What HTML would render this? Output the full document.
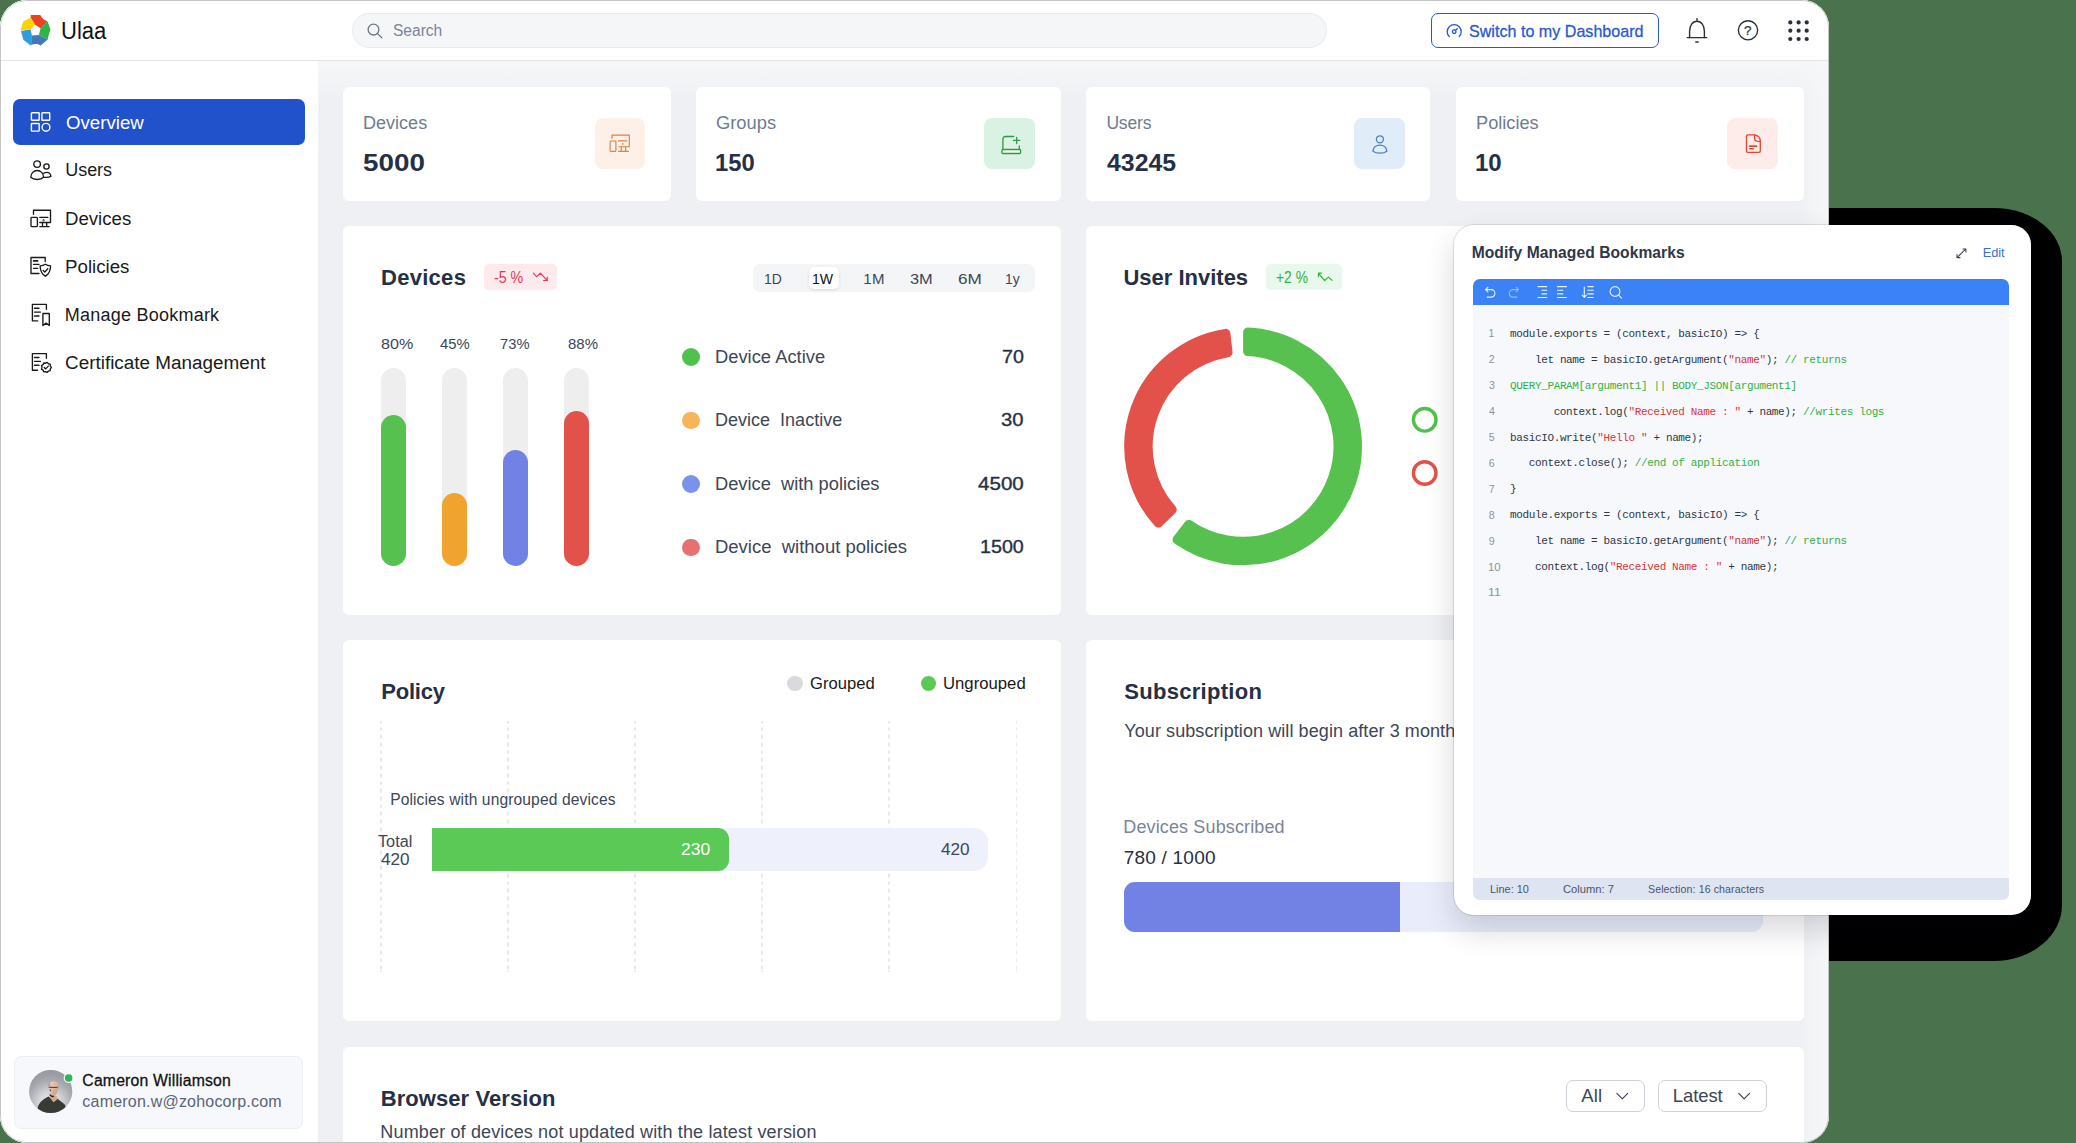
<!DOCTYPE html>
<html>
<head>
<meta charset="utf-8">
<title>Ulaa Dashboard</title>
<style>
*{box-sizing:border-box;margin:0;padding:0}
html,body{width:2076px;height:1143px;overflow:hidden}
body{background:#4a734d;font-family:"Liberation Sans",sans-serif;color:#1f2937;position:relative}
.abs{position:absolute}
.t{position:absolute;white-space:pre;line-height:1}
#blk{position:absolute;left:1700px;top:208px;width:362px;height:753px;background:#000;border-radius:0 68px 68px 0 / 0 53px 56px 0}
#win{position:absolute;left:0;top:0;width:1829px;height:1143px;background:#eef0f3;border-radius:27px;overflow:hidden}
#winb{position:absolute;left:0;top:0;width:1829px;height:1143px;border:1px solid #c4c4c4;border-radius:27px;pointer-events:none}
#hdr{position:absolute;left:0;top:0;width:1830px;height:61px;background:#fff;border-bottom:1px solid #e3e4e6}
#side{position:absolute;left:0;top:0;width:318px;height:1150px;background:#fff}
.card{position:absolute;background:#fff;border-radius:6px}
</style>
</head>
<body>
<div id="blk"></div>
<div id="win">
  <div id="content" class="abs" style="left:0;top:0;width:1830px;height:1144px">
<div class="abs" style="left:318px;top:61px;width:1511px;height:40px;background:linear-gradient(to bottom,#f6f7f9 0%,rgba(246,247,249,0.55) 45%,rgba(246,247,249,0) 100%)"></div>
<div class="abs" style="left:1800px;top:61px;width:29px;height:1083px;background:linear-gradient(to right,rgba(246,247,249,0) 0%,rgba(246,247,249,0.6) 50%,#f6f7f9 100%)"></div>
<div class="card" style="left:343px;top:86.6px;width:327.6px;height:114px"></div>
<div class="card" style="left:696px;top:86.6px;width:364.6px;height:114px"></div>
<div class="card" style="left:1086px;top:86.6px;width:344.2px;height:114px"></div>
<div class="card" style="left:1456px;top:86.6px;width:348px;height:114px"></div>
<div class="t" style="left:363.26px;top:113px;line-height:20px;font-size:17.5px;color:#6f7c90;transform:scaleX(1.0312);transform-origin:0 0;">Devices</div>
<div class="t" style="left:363.37px;top:150px;line-height:26px;font-size:23px;color:#263043;font-weight:bold;transform:scaleX(1.2086);transform-origin:0 0;">5000</div>
<div class="t" style="left:716.28px;top:113px;line-height:20px;font-size:17.5px;color:#6f7c90;transform:scaleX(1.0467);transform-origin:0 0;">Groups</div>
<div class="t" style="left:715.47px;top:150px;line-height:26px;font-size:23px;color:#263043;font-weight:bold;transform:scaleX(1.0342);transform-origin:0 0;">150</div>
<div class="t" style="left:1106.38px;top:113px;line-height:20px;font-size:17.5px;color:#6f7c90;letter-spacing:-0.162px;">Users</div>
<div class="t" style="left:1106.85px;top:150px;line-height:26px;font-size:23px;color:#263043;font-weight:bold;transform:scaleX(1.0804);transform-origin:0 0;">43245</div>
<div class="t" style="left:1475.64px;top:113px;line-height:20px;font-size:17.5px;color:#6f7c90;transform:scaleX(1.0398);transform-origin:0 0;">Policies</div>
<div class="t" style="left:1474.96px;top:150px;line-height:26px;font-size:23px;color:#263043;font-weight:bold;transform:scaleX(1.0440);transform-origin:0 0;">10</div>
<div class="abs" style="left:594.6px;top:118px;width:50.4px;height:50.8px;background:#fdf0e7;border-radius:8px;"></div>
<div class="abs" style="left:984.2px;top:118px;width:50.8px;height:50.8px;background:#daf2e4;border-radius:8px;"></div>
<div class="abs" style="left:1354.2px;top:118px;width:50.8px;height:50.8px;background:#e0edf9;border-radius:8px;"></div>
<div class="abs" style="left:1727.4px;top:118px;width:50.6px;height:50.8px;background:#fdecea;border-radius:8px;"></div>
<svg class="abs" style="left:606px;top:130px" width="28" height="26" viewBox="0 0 28 26" fill="none" stroke="#d9824a" stroke-width="1.15" stroke-linecap="round" stroke-linejoin="round" ><path d="M6 8.400v-3.300h17.300v11.600h-10.300"/><path d="M12.500 10.900h8.300"/><path d="M15.300 16.700v4.500M19.600 16.700v4.500M12.500 21.300h10"/><rect x="4.100" y="11" width="5.800" height="10.300" rx="0.700"/><circle cx="16.700" cy="13.900" r="0.300"/></svg>
<svg class="abs" style="left:996px;top:130px" width="30" height="28" viewBox="0 0 30 28" fill="none" stroke="#2f9b41" stroke-width="1.3" stroke-linecap="round" stroke-linejoin="round" ><path d="M6.900 19v-9.600c0-1.800 1-2.900 2.800-2.900h7.900"/><path d="M23.300 16v3"/><path d="M17.600 10.400h6.200M20.700 7.300v6.200"/><rect x="5.900" y="19.500" width="18.700" height="4" rx="1" fill="#f3fbf5"/></svg>
<svg class="abs" style="left:1366px;top:130px" width="28" height="28" viewBox="0 0 28 28" fill="none" stroke="#4a7fc4" stroke-width="1.3" stroke-linecap="round" stroke-linejoin="round" ><circle cx="13.900" cy="9.300" r="3.500"/><path d="M6.900 21.200c.5-3.700 3.400-6 7-6s6.500 2.300 7 6c-2 1.500-4.400 2-7 2s-5-.5-7-2z"/></svg>
<svg class="abs" style="left:1739px;top:128px" width="30" height="30" viewBox="0 0 30 30" fill="none" stroke="#e8452c" stroke-width="1.3" stroke-linecap="round" stroke-linejoin="round" ><path d="M15.400 6.900h-6.600c-.8 0-1.300.5-1.300 1.300v14.900c0 .8.500 1.300 1.300 1.300h11.200c.8 0 1.300-.5 1.300-1.300v-9.600c0-3.600-2.300-6.100-5.900-6.600z"/><path d="M15.600 7v3.500c0 1.400.8 2.300 2.300 2.600l3 .5"/><path d="M10.700 18.200h6.800" stroke-width="1.700"/><path d="M10.700 20.800h3.600" stroke-width="1.500"/></svg>
<div class="card" style="left:343px;top:225.8px;width:717.6px;height:388.9px"></div>
<div class="t" style="left:380.98px;top:265px;line-height:25px;font-size:22px;color:#263043;font-weight:bold;letter-spacing:0.290px;">Devices</div>
<div class="abs" style="left:484.1px;top:263.9px;width:72.8px;height:26.2px;background:#fdeaec;border-radius:5px;"></div>
<div class="t" style="left:494.43px;top:269px;line-height:17px;font-size:15.8px;color:#e9345a;transform:scaleX(0.9014);transform-origin:0 0;">-5 %</div>
<svg class="abs" style="left:531px;top:269px" width="20" height="16" viewBox="0 0 20 16" fill="none" stroke="#e9345a" stroke-width="1.2" stroke-linecap="round" stroke-linejoin="round" ><path d="M2.300 4.100l3.300 3.500 3.800-3.400 6.700 7.100"/><path d="M16.200 8.100v3.400h-3.600"/></svg>
<div class="abs" style="left:752.7px;top:264px;width:282.2px;height:27.8px;background:#f4f5f7;border-radius:7px;"></div>
<div class="abs" style="left:808.7px;top:267.2px;width:30.2px;height:21.8px;background:#fff;border-radius:5px;box-shadow:0 1px 3px rgba(0,0,0,0.12);"></div>
<div class="t" style="left:764.43px;top:270px;line-height:17px;font-size:15px;color:#3c4658;transform:scaleX(0.9261);transform-origin:0 0;">1D</div>
<div class="t" style="left:811.82px;top:270px;line-height:17px;font-size:15px;color:#111;transform:scaleX(0.9377);transform-origin:0 0;">1W</div>
<div class="t" style="left:863.25px;top:270px;line-height:17px;font-size:15px;color:#3c4658;letter-spacing:0.408px;">1M</div>
<div class="t" style="left:909.91px;top:270px;line-height:17px;font-size:15px;color:#3c4658;transform:scaleX(1.0937);transform-origin:0 0;">3M</div>
<div class="t" style="left:957.74px;top:270px;line-height:17px;font-size:15px;color:#3c4658;transform:scaleX(1.1426);transform-origin:0 0;">6M</div>
<div class="t" style="left:1005.33px;top:270px;line-height:17px;font-size:15px;color:#3c4658;transform:scaleX(0.9262);transform-origin:0 0;">1y</div>
<div class="t" style="left:380.86px;top:335px;line-height:17px;font-size:15.5px;color:#3c4658;transform:scaleX(1.0384);transform-origin:0 0;">80%</div>
<div class="t" style="left:440.00px;top:335px;line-height:17px;font-size:15.5px;color:#3c4658;transform:scaleX(0.9550);transform-origin:0 0;">45%</div>
<div class="t" style="left:500.16px;top:335px;line-height:17px;font-size:15.5px;color:#3c4658;transform:scaleX(0.9498);transform-origin:0 0;">73%</div>
<div class="t" style="left:568.10px;top:335px;line-height:17px;font-size:15.5px;color:#3c4658;transform:scaleX(0.9649);transform-origin:0 0;">88%</div>
<div class="abs" style="left:381px;top:367.6px;width:25.4px;height:198.2px;background:#eeeeef;border-radius:12.7px;"></div>
<div class="abs" style="left:381px;top:415.2px;width:25.4px;height:150.59999999999997px;background:#56c14f;border-radius:12.7px;"></div>
<div class="abs" style="left:442px;top:367.6px;width:25.4px;height:198.2px;background:#eeeeef;border-radius:12.7px;"></div>
<div class="abs" style="left:442px;top:492.9px;width:25.4px;height:72.89999999999998px;background:#f0a32e;border-radius:12.7px;"></div>
<div class="abs" style="left:503px;top:367.6px;width:25.4px;height:198.2px;background:#eeeeef;border-radius:12.7px;"></div>
<div class="abs" style="left:503px;top:450.1px;width:25.4px;height:115.69999999999993px;background:#7182e4;border-radius:12.7px;"></div>
<div class="abs" style="left:563.9px;top:367.6px;width:25.4px;height:198.2px;background:#eeeeef;border-radius:12.7px;"></div>
<div class="abs" style="left:563.9px;top:410.9px;width:25.4px;height:154.89999999999998px;background:#e2524a;border-radius:12.7px;"></div>
<div class="abs" style="left:681.9px;top:348.1px;width:17.8px;height:17.8px;background:#4fc14d;border-radius:9px;"></div>
<div class="t" style="left:714.53px;top:347px;line-height:20px;font-size:17.5px;color:#3c4658;transform:scaleX(1.0483);transform-origin:0 0;">Device Active</div>
<div class="t" style="left:1001.98px;top:347px;line-height:20px;font-size:17.5px;color:#263043;-webkit-text-stroke:0.33px #263043;transform:scaleX(1.1230);transform-origin:0 0;">70</div>
<div class="abs" style="left:681.9px;top:411.6px;width:17.8px;height:17.8px;background:#f7b55a;border-radius:9px;"></div>
<div class="t" style="left:714.56px;top:410px;line-height:20px;font-size:17.5px;color:#3c4658;transform:scaleX(1.0297);transform-origin:0 0;">Device  Inactive</div>
<div class="t" style="left:1001.37px;top:410px;line-height:20px;font-size:17.5px;color:#263043;-webkit-text-stroke:0.34px #263043;transform:scaleX(1.1556);transform-origin:0 0;">30</div>
<div class="abs" style="left:681.9px;top:475.1px;width:17.8px;height:17.8px;background:#7b92ea;border-radius:9px;"></div>
<div class="t" style="left:714.54px;top:474px;line-height:20px;font-size:17.5px;color:#3c4658;transform:scaleX(1.0441);transform-origin:0 0;">Device  with policies</div>
<div class="t" style="left:978.06px;top:474px;line-height:20px;font-size:17.5px;color:#263043;-webkit-text-stroke:0.35px #263043;transform:scaleX(1.1766);transform-origin:0 0;">4500</div>
<div class="abs" style="left:681.9px;top:538.5px;width:17.8px;height:17.8px;background:#e87070;border-radius:9px;"></div>
<div class="t" style="left:714.52px;top:537px;line-height:20px;font-size:17.5px;color:#3c4658;transform:scaleX(1.0558);transform-origin:0 0;">Device  without policies</div>
<div class="t" style="left:980.09px;top:537px;line-height:20px;font-size:17.5px;color:#263043;-webkit-text-stroke:0.33px #263043;transform:scaleX(1.1239);transform-origin:0 0;">1500</div>
<div class="card" style="left:1086px;top:225.8px;width:718px;height:388.9px"></div>
<div class="t" style="left:1123.48px;top:265px;line-height:25px;font-size:22px;color:#263043;font-weight:bold;letter-spacing:-0.010px;">User Invites</div>
<div class="abs" style="left:1266.3px;top:263.9px;width:75.4px;height:26.2px;background:#e9f8ec;border-radius:5px;"></div>
<div class="t" style="left:1276.44px;top:268px;line-height:18px;font-size:16.2px;color:#30b536;transform:scaleX(0.8578);transform-origin:0 0;">+2 %</div>
<svg class="abs" style="left:1315px;top:269px" width="20" height="16" viewBox="0 0 20 16" fill="none" stroke="#30b536" stroke-width="1.2" stroke-linecap="round" stroke-linejoin="round" ><path d="M17 11.400l-3.500-3.300-3.900 3.400-6-7.200"/><path d="M3.500 7.700v-3.500h3"/></svg>
<svg class="abs" style="left:1110px;top:310px" width="270" height="270" viewBox="1110 310 270 270"><path d="M1247.90 332.40A114.10000000000001 114.10000000000001 0 1 1 1177.35 539.65L1188.89 524.66A95.2 95.2 0 1 0 1247.90 351.32Z" fill="#56c14f" stroke="#56c14f" stroke-width="9.6" stroke-linejoin="round"/><path d="M1158.43 522.88A114.10000000000001 114.10000000000001 0 0 1 1225.62 333.65L1227.73 352.45A95.2 95.2 0 0 0 1171.92 509.62Z" fill="#e2524a" stroke="#e2524a" stroke-width="9.6" stroke-linejoin="round"/></svg>
<svg class="abs" style="left:1405px;top:400px" width="40" height="95" viewBox="1405 400 40 95" fill="none" stroke-width="3.4"><circle cx="1424.7" cy="419.8" r="11.3" stroke="#4fc14d"/><circle cx="1424.7" cy="473" r="11.3" stroke="#e2524a"/></svg>
<div class="card" style="left:343px;top:640.2px;width:717.6px;height:380.8px"></div>
<div class="t" style="left:381.18px;top:679px;line-height:25px;font-size:22px;color:#263043;font-weight:bold;letter-spacing:-0.194px;">Policy</div>
<div class="abs" style="left:787.4px;top:675.9px;width:15.2px;height:15.2px;background:#d9dade;border-radius:8px;"></div>
<div class="t" style="left:809.67px;top:675px;line-height:17px;font-size:15.8px;color:#1a1a1a;transform:scaleX(1.0517);transform-origin:0 0;">Grouped</div>
<div class="abs" style="left:920.6999999999999px;top:675.9px;width:15.2px;height:15.2px;background:#5ac955;border-radius:8px;"></div>
<div class="t" style="left:943.03px;top:675px;line-height:17px;font-size:15.8px;color:#1a1a1a;transform:scaleX(1.0579);transform-origin:0 0;">Ungrouped</div>
<div class="abs" style="left:380.15px;top:720.9px;width:1.9px;height:251.600px;background:repeating-linear-gradient(to bottom,#e9e9eb 0,#e9e9eb 3.700px,transparent 3.700px,transparent 7.700px);background-position:0 -1.400px"></div>
<div class="abs" style="left:507.25px;top:720.9px;width:1.9px;height:251.600px;background:repeating-linear-gradient(to bottom,#e9e9eb 0,#e9e9eb 3.700px,transparent 3.700px,transparent 7.700px);background-position:0 -1.400px"></div>
<div class="abs" style="left:634.35px;top:720.9px;width:1.9px;height:251.600px;background:repeating-linear-gradient(to bottom,#e9e9eb 0,#e9e9eb 3.700px,transparent 3.700px,transparent 7.700px);background-position:0 -1.400px"></div>
<div class="abs" style="left:761.45px;top:720.9px;width:1.9px;height:251.600px;background:repeating-linear-gradient(to bottom,#e9e9eb 0,#e9e9eb 3.700px,transparent 3.700px,transparent 7.700px);background-position:0 -1.400px"></div>
<div class="abs" style="left:888.35px;top:720.9px;width:1.9px;height:251.600px;background:repeating-linear-gradient(to bottom,#e9e9eb 0,#e9e9eb 3.700px,transparent 3.700px,transparent 7.700px);background-position:0 -1.400px"></div>
<div class="abs" style="left:1015.55px;top:720.9px;width:1.9px;height:251.600px;background:repeating-linear-gradient(to bottom,#e9e9eb 0,#e9e9eb 3.700px,transparent 3.700px,transparent 7.700px);background-position:0 -1.400px"></div>
<div class="t" style="left:390.15px;top:791px;line-height:17px;font-size:15.6px;color:#3c4658;letter-spacing:0.114px;">Policies with ungrouped devices</div>
<div class="t" style="left:378.17px;top:833px;line-height:17px;font-size:15.6px;color:#3c4658;transform:scaleX(1.0420);transform-origin:0 0;">Total</div>
<div class="t" style="left:380.86px;top:851px;line-height:17px;font-size:15.6px;color:#3c4658;transform:scaleX(1.0973);transform-origin:0 0;">420</div>
<div class="abs" style="left:432.2px;top:828px;width:555.7px;height:43px;background:#eef1fc;border-radius:0 14px 14px 0;"></div>
<div class="abs" style="left:432.2px;top:828px;width:296.6px;height:43px;background:#5ac955;border-radius:0 11px 11px 0;"></div>
<div class="t" style="left:681.33px;top:841px;line-height:17px;font-size:16px;color:#fff;transform:scaleX(1.0902);transform-origin:0 0;">230</div>
<div class="t" style="left:941.26px;top:841px;line-height:17px;font-size:16px;color:#3c4658;transform:scaleX(1.0699);transform-origin:0 0;">420</div>
<div class="card" style="left:1086px;top:640.2px;width:718px;height:380.8px"></div>
<div class="t" style="left:1124.26px;top:679px;line-height:25px;font-size:22px;color:#263043;font-weight:bold;letter-spacing:0.284px;">Subscription</div>
<div class="t" style="left:1124.34px;top:721px;line-height:20px;font-size:18px;color:#3c4658;letter-spacing:0.081px;">Your subscription will begin after 3 months</div>
<div class="t" style="left:1123.26px;top:817px;line-height:20px;font-size:18px;color:#7a8597;letter-spacing:0.134px;">Devices Subscribed</div>
<div class="t" style="left:1123.75px;top:847px;line-height:21px;font-size:19px;color:#263043;letter-spacing:0.215px;">780 / 1000</div>
<div class="abs" style="left:1123.9px;top:881.5px;width:638.9px;height:50.5px;background:#e9edfb;border-radius:11px;"></div>
<div class="abs" style="left:1123.9px;top:881.5px;width:276.1px;height:50.5px;background:#7182e4;border-radius:11px 0 0 11px;"></div>
<div class="card" style="left:343px;top:1046.7px;width:1461px;height:140px"></div>
<div class="t" style="left:380.68px;top:1086px;line-height:25px;font-size:22px;color:#263043;font-weight:bold;letter-spacing:0.074px;">Browser Version</div>
<div class="t" style="left:380.36px;top:1122px;line-height:20px;font-size:18px;color:#3c4658;letter-spacing:0.150px;">Number of devices not updated with the latest version</div>
<div class="abs" style="left:1565.5px;top:1080px;width:79px;height:32px;background:#fff;border-radius:7px;border:1px solid #cfd2d8;"></div>
<div class="abs" style="left:1658.1px;top:1080px;width:108.7px;height:32px;background:#fff;border-radius:7px;border:1px solid #cfd2d8;"></div>
<div class="t" style="left:1581.30px;top:1085px;line-height:21px;font-size:18.5px;color:#3c4658;letter-spacing:0.095px;">All</div>
<div class="t" style="left:1672.82px;top:1085px;line-height:21px;font-size:18.5px;color:#3c4658;letter-spacing:-0.091px;">Latest</div>
<svg class="abs" style="left:1614px;top:1090px" width="16" height="12" viewBox="0 0 16 12" fill="none" stroke="#3c4658" stroke-width="1.2" stroke-linecap="round" stroke-linejoin="round" ><path d="M2.900 3.400l5.400 5.500 5.400-5.500"/></svg>
<svg class="abs" style="left:1736px;top:1090px" width="16" height="12" viewBox="0 0 16 12" fill="none" stroke="#3c4658" stroke-width="1.2" stroke-linecap="round" stroke-linejoin="round" ><path d="M2.700 3.400l5.400 5.500 5.400-5.500"/></svg>
  </div>
  <div id="side">
<div class="abs" style="left:13px;top:99px;width:292px;height:46px;background:#2251cc;border-radius:7px;"></div>
<svg class="abs" style="left:28px;top:110px" width="26" height="24" viewBox="0 0 26 24" fill="none" stroke="#fff" stroke-width="1.4" stroke-linecap="round" stroke-linejoin="round" ><rect x="3.4" y="2.7" width="7.8" height="7.6" rx="0.6"/><rect x="13.9" y="2.7" width="7.8" height="7.6" rx="0.6"/><rect x="3.4" y="13.5" width="7.8" height="7.6" rx="0.6"/><circle cx="18" cy="17.3" r="3.9"/></svg>
<svg class="abs" style="left:28px;top:158px" width="26" height="24" viewBox="0 0 26 24" fill="none" stroke="#1a1a1a" stroke-width="1.35" stroke-linecap="round" stroke-linejoin="round" ><circle cx="9.1" cy="6.1" r="3.3"/><circle cx="18.500" cy="8.500" r="2.650"/><path d="M2.8 19.3c0-4 2.9-6.8 6.4-6.8s6.4 2.8 6.4 6.8c-1.5 1.6-3.8 2.2-6.4 2.2s-4.900-.6-6.400-2.200z"/><path d="M15.700 15.300c.8-.7 1.800-1 2.900-1 2.400 0 4.100 1.800 4.300 4.100-1.600 1-4.300 1.100-7.200.9"/></svg>
<svg class="abs" style="left:28px;top:206px" width="26" height="24" viewBox="0 0 26 24" fill="none" stroke="#1a1a1a" stroke-width="1.35" stroke-linecap="round" stroke-linejoin="round" ><path d="M5.500 8.300v-4.100h17v12.300h-10.700"/><path d="M11.800 11.400h8"/><path d="M14.500 16.500v4.100M18.700 16.500v4.100M11.800 20.600h9.400"/><rect x="3" y="11.400" width="6.400" height="9.200" rx="0.8"/><circle cx="15.600" cy="14.300" r="0.350" /></svg>
<svg class="abs" style="left:28px;top:254px" width="26" height="26" viewBox="0 0 26 26" fill="none" stroke="#1a1a1a" stroke-width="1.35" stroke-linecap="round" stroke-linejoin="round" ><path d="M17.200 7.600v-4.100h-14.200v16h8"/><path d="M5.500 10.400h5.500M5.500 14.300h4.200"/><path d="M5.700 6.900h3.800" stroke-width="1.9"/><path d="M17.350 10.300c1.600 1 3.300 1.500 5.200 1.600 0 4.800-1.600 8.100-5.200 10.300-3.600-2.200-5.200-5.500-5.200-10.300 1.900-.1 3.600-.6 5.200-1.600z"/><path d="M15.200 16.400l1.600 1.600 3-3.200"/></svg>
<svg class="abs" style="left:28px;top:302px" width="26" height="26" viewBox="0 0 26 26" fill="none" stroke="#1a1a1a" stroke-width="1.35" stroke-linecap="round" stroke-linejoin="round" ><path d="M18.400 7.300v-4.900h-14v16.500h5.200"/><path d="M6.500 6.250h4.500M6.500 10.100h6M6.500 14h4.500"/><path d="M14.900 11.500h6.400v12l-3.200-2.400-3.200 2.400z"/></svg>
<svg class="abs" style="left:28px;top:350px" width="26" height="26" viewBox="0 0 26 26" fill="none" stroke="#1a1a1a" stroke-width="1.35" stroke-linecap="round" stroke-linejoin="round" ><path d="M18.400 8.300v-4.700h-14v16.600h5.200"/><path d="M6.500 7.500h4.500M6.500 11.300h6M6.500 15.200h4.500"/><polygon points="23.40,17.40 22.29,18.85 22.21,20.68 20.43,21.08 19.19,22.42 17.56,21.59 15.75,21.82 15.04,20.13 13.51,19.14 14.05,17.40 13.51,15.66 15.04,14.67 15.75,12.98 17.56,13.21 19.19,12.38 20.42,13.72 22.21,14.12 22.29,15.95"/><path d="M16.300 17.500l1.400 1.400 2.600-2.800"/></svg>
<div class="t" style="left:65.85px;top:113px;line-height:20px;font-size:18px;color:#fff;transform:scaleX(1.0371);transform-origin:0 0;">Overview</div>
<div class="t" style="left:65.34px;top:160px;line-height:20px;font-size:18px;color:#1a1a1a;letter-spacing:-0.101px;">Users</div>
<div class="t" style="left:65.11px;top:209px;line-height:20px;font-size:18px;color:#1a1a1a;transform:scaleX(1.0348);transform-origin:0 0;">Devices</div>
<div class="t" style="left:65.10px;top:257px;line-height:20px;font-size:18px;color:#1a1a1a;transform:scaleX(1.0392);transform-origin:0 0;">Policies</div>
<div class="t" style="left:64.86px;top:305px;line-height:20px;font-size:18px;color:#1a1a1a;letter-spacing:0.227px;">Manage Bookmark</div>
<div class="t" style="left:65.36px;top:353px;line-height:20px;font-size:18px;color:#1a1a1a;transform:scaleX(1.0493);transform-origin:0 0;">Certificate Management</div>
<div class="abs" style="left:14px;top:1055.5px;width:289px;height:73px;background:#f7f8fb;border-radius:7px;border:1px solid #eceef3;"></div>
<svg class="abs" style="left:29px;top:1070px" width="46" height="44" viewBox="0 0 46 44">
<defs><radialGradient id="ag" cx="21" cy="33" r="30" gradientUnits="userSpaceOnUse"><stop offset="0" stop-color="#ececee"/><stop offset="0.35" stop-color="#d6d7da"/><stop offset="0.75" stop-color="#a9aab0"/><stop offset="1" stop-color="#999aa2"/></radialGradient><clipPath id="ac"><circle cx="21.7" cy="21.5" r="21.6"/></clipPath>
<linearGradient id="sk" x1="0" y1="0" x2="1" y2="1"><stop offset="0" stop-color="#f0d2bf"/><stop offset="1" stop-color="#c99a80"/></linearGradient></defs>
<circle cx="21.7" cy="21.500" r="21.600" fill="url(#ag)"/>
<g clip-path="url(#ac)">
<path d="M19.600 26.400c-4.500 2.200-8.700 4.600-10.800 10.600l-.8 8h30l-1.400-8c-.3-1.700-.9-2.600-2-3.400l-6.400-5.200-3.400 2.400z" fill="#383a35"/>
<path d="M21.600 24.500l6.200 1.500.4 3.400-3.700 2.800-3.600-4.400z" fill="#d9a98e"/>
<path d="M20.600 23.500c1.200 1.800 3.400 2.700 5 2.200l-1.600 1.700-3.200-1.500z" fill="#2a2623"/>
<path d="M19.800 17.200c-.6-3.400 1.400-5.600 4.600-5.600 3.400 0 5.400 2.200 5 6.200-.3 3-1.300 5.600-2.700 6.900-.8.700-2 .8-3 .3-2-1-3.500-4.300-3.900-7.800z" fill="url(#sk)"/>
<path d="M19.500 16.800c-.3-2.500.6-4.100 1.700-4.800-.4 1.400-.7 3-.6 4.600zM29.100 14.600c.7 1.200.8 2.600.6 4.100l-.7-.2z" fill="#9a9494"/>
<path d="M19.700 17.300l8.700.2" stroke="#2d2d30" stroke-width="0.900" fill="none"/>
<circle cx="21.400" cy="20.300" r="0.700" fill="#3a3030"/>
</g>
<circle cx="39.660" cy="8.080" r="5" fill="#f7f8fb"/><circle cx="39.660" cy="8.080" r="3.750" fill="#2fb457"/></svg>
<div class="t" style="left:82.34px;top:1072px;line-height:17px;font-size:15.8px;color:#111;-webkit-text-stroke:0.27px #111;letter-spacing:0.162px;">Cameron Williamson</div>
<div class="t" style="left:82.36px;top:1093px;line-height:17px;font-size:16px;color:#5a6478;letter-spacing:0.203px;">cameron.w@zohocorp.com</div>
  </div>
  <div id="hdr">
<svg class="abs" style="left:20px;top:14px" width="33" height="34" viewBox="0 0 33 34">
<path d="M10.700 1h9.700c.4 1 .8 1.800 1.400 2.500 1.400 1.700 3.300 2.900 5.600 3.800l-6.800 6.900-5.500-3.500-4.400-7z" fill="#ee4023"/>
<path d="M27.400 7.300c1 2.800 2.400 5.700 3.200 8.600-1.400 3-2.300 6.300-2.800 9.500l-8.900-4.400 1.700-6.900z" fill="#2fb44a"/>
<path d="M27.800 25.400l-7.200 6.200c-2.800-1.700-6.200-1.900-9.300-.8l.6-9.400 7-.4z" fill="#4678b8"/>
<path d="M1 16.900l9.500-1.600 1.400 6v8.900l-1.200 1.400-7.400-5.800z" fill="#319cdc"/>
<path d="M10.700 3.700l4.400 7-4.600 4.600-9.900 1.300 2.700-9.300z" fill="#fdd400"/>
</svg>
<div class="t" style="left:60.86px;top:18px;line-height:26px;font-size:23px;color:#111;transform:scaleX(0.9589);transform-origin:0 0;">Ulaa</div>
<div class="abs" style="left:352.3px;top:13px;width:975px;height:35px;background:#f5f6f8;border-radius:18px;border:1px solid #e9eaec;"></div>
<svg class="abs" style="left:365px;top:21px" width="20" height="20" viewBox="0 0 20 20" fill="none" stroke="#6e778b" stroke-width="1.3" stroke-linecap="round"><circle cx="8.500" cy="8.600" r="5.400"/><path d="M12.500 12.600l4.300 4.100"/></svg>
<div class="t" style="left:392.88px;top:22px;line-height:17px;font-size:16px;color:#7b849a;transform:scaleX(0.9704);transform-origin:0 0;">Search</div>
<div class="abs" style="left:1431px;top:13px;width:228px;height:35px;background:transparent;border-radius:7px;border:1.6px solid #2857d6;"></div>
<svg class="abs" style="left:1445px;top:22px" width="18" height="18" viewBox="0 0 18 18" fill="none" stroke="#2857d6" stroke-width="1.3" stroke-linecap="round"><path d="M4.300 14.600A7 7 0 1 1 14.100 14.600"/><circle cx="9.200" cy="9.700" r="1.800"/><path d="M10.400 8.500l1.800-1.700"/></svg>
<div class="t" style="left:1469.29px;top:23px;line-height:17px;font-size:15.7px;color:#2857d6;-webkit-text-stroke:0.27px #2857d6;transform:scaleX(1.0266);transform-origin:0 0;">Switch to my Dashboard</div>
<svg class="abs" style="left:1685px;top:17px" width="24" height="27" viewBox="0 0 24 27" fill="none" stroke="#2a2f3a" stroke-width="1.4" stroke-linecap="round" stroke-linejoin="round"><path d="M12 1.6v1.6"/><path d="M4.600 20.600V14.300C4.600 8.500 7.600 4.300 12 4.300S19.400 8.500 19.400 14.300V20.600"/><path d="M2.2 20.6h19.6"/><path d="M10.8 25h2.4"/></svg>
<svg class="abs" style="left:1736px;top:18px" width="24" height="24" viewBox="0 0 24 24" fill="none" stroke="#2a2f3a" stroke-width="1.4"><circle cx="12" cy="12.3" r="9.6"/></svg>
<div class="t" style="left:1744.02px;top:23px;line-height:15px;font-size:13.5px;color:#2a2f3a;-webkit-text-stroke:0.23px #2a2f3a;">?</div>
<svg class="abs" style="left:1786px;top:18px" width="26" height="26" viewBox="0 0 26 26" fill="#2a2f3a"><circle cx="4.3" cy="4.4" r="2.1"/><circle cx="12.6" cy="4.4" r="2.1"/><circle cx="20.7" cy="4.4" r="2.1"/><circle cx="4.3" cy="12.7" r="2.1"/><circle cx="12.6" cy="12.7" r="2.1"/><circle cx="20.7" cy="12.7" r="2.1"/><circle cx="4.3" cy="21" r="2.1"/><circle cx="12.6" cy="21" r="2.1"/><circle cx="20.7" cy="21" r="2.1"/></svg>
  </div>
  <div id="winb"></div>
</div>
<div class="abs" style="left:1453.6px;top:224.7px;width:577.4px;height:690px;background:#fff;border-radius:19.5px;box-shadow:0 15px 31px rgba(10,15,40,0.16),0 0 0 0.8px rgba(0,0,0,0.13)"></div>
<div class="t" style="left:1471.66px;top:244px;line-height:17px;font-size:15.6px;color:#2d3748;font-weight:bold;letter-spacing:0.069px;">Modify Managed Bookmarks</div>
<svg class="abs" style="left:1953px;top:245px" width="18" height="16" viewBox="0 0 18 16" fill="none" stroke="#3a4150" stroke-width="1.05" stroke-linecap="round" stroke-linejoin="round" ><path d="M4.300 12.300l8.300-8.100"/><path d="M9.900 3.900h3v3"/><path d="M4 9.600v3h3"/></svg>
<div class="t" style="left:1982.78px;top:245px;line-height:15px;font-size:12.8px;color:#3b6fd6;letter-spacing:-0.053px;">Edit</div>
<div class="abs" style="left:1472.8px;top:279px;width:536.6px;height:620.6px;background:#f7f8fb;border-radius:7px;"></div>
<div class="abs" style="left:1472.8px;top:279px;width:536.6px;height:26.2px;background:#3b82f6;border-radius:7px 7px 0 0;"></div>
<div class="abs" style="left:1472.8px;top:877.6px;width:536.6px;height:22px;background:#dfe4f2;border-radius:0 0 7px 7px;"></div>
<svg class="abs" style="left:1473px;top:278.4px" width="160" height="28" viewBox="0 0 160 28" fill="none" stroke="#eaf2ff" stroke-width="1.1" stroke-linecap="round" stroke-linejoin="round" ><path d="M12.800 11.600h5.400a3.500 3.500 0 0 1 0 7.500h-4"/><path d="M14.900 9.400l-2.200 2.200 2.200 2.200"/><g opacity="0.5"><path d="M45.400 11.600h-5.400a3.500 3.500 0 0 0 0 7.500h4"/><path d="M43.300 9.400l2.200 2.200-2.200 2.200"/></g><path d="M65 8.600h8.700M69 12.300h4.700M69 15.900h4.700M65 19.500h8.700"/><path d="M84.500 8.600h9M84.500 12.300h5.300M84.500 15.900h5.300M84.500 19.500h9"/><path d="M111.300 9.100v10.100M109.200 17.200l2.100 2.100 2.100-2.100M114.800 8.600h5.500M114.800 12.300h5.500M114.800 15.900h5.500M114.800 19.500h5.500"/><circle cx="142" cy="13.500" r="4.900"/><path d="M145.600 17.100l3 3"/></svg>
<div class="t" style="left:1488.46px;top:327px;line-height:12px;font-size:10.6px;color:#8a93a3;">1</div>
<div class="t" style="left:1510.00px;top:328px;line-height:12px;font-size:11px;letter-spacing:-0.366px;font-family:'Liberation Mono',monospace"><span style="color:#2d3748">module.exports = (context, basicIO) =&gt; {</span></div>
<div class="t" style="left:1488.67px;top:353px;line-height:12px;font-size:10.6px;color:#8a93a3;">2</div>
<div class="t" style="left:1534.94px;top:354px;line-height:12px;font-size:11px;letter-spacing:-0.366px;font-family:'Liberation Mono',monospace"><span style="color:#2d3748">let name = basicIO.getArgument(</span><span style="color:#e03131">"name"</span><span style="color:#2d3748">); </span><span style="color:#2fb344">// returns</span></div>
<div class="t" style="left:1488.88px;top:379px;line-height:12px;font-size:10.6px;color:#8a93a3;">3</div>
<div class="t" style="left:1510.00px;top:380px;line-height:12px;font-size:11px;letter-spacing:-0.366px;font-family:'Liberation Mono',monospace"><span style="color:#2fb344">QUERY_PARAM[argument1] || BODY_JSON[argument1]</span></div>
<div class="t" style="left:1488.99px;top:405px;line-height:12px;font-size:10.6px;color:#8a93a3;">4</div>
<div class="t" style="left:1553.64px;top:406px;line-height:12px;font-size:11px;letter-spacing:-0.366px;font-family:'Liberation Mono',monospace"><span style="color:#2d3748">context.log(</span><span style="color:#e03131">"Received Name : "</span><span style="color:#2d3748"> + name); </span><span style="color:#2fb344">//writes logs</span></div>
<div class="t" style="left:1488.78px;top:431px;line-height:12px;font-size:10.6px;color:#8a93a3;">5</div>
<div class="t" style="left:1510.00px;top:432px;line-height:12px;font-size:11px;letter-spacing:-0.366px;font-family:'Liberation Mono',monospace"><span style="color:#2d3748">basicIO.write(</span><span style="color:#e03131">"Hello "</span><span style="color:#2d3748"> + name);</span></div>
<div class="t" style="left:1488.67px;top:457px;line-height:12px;font-size:10.6px;color:#8a93a3;">6</div>
<div class="t" style="left:1528.70px;top:457px;line-height:12px;font-size:11px;letter-spacing:-0.366px;font-family:'Liberation Mono',monospace"><span style="color:#2d3748">context.close(); </span><span style="color:#2fb344">//end of application</span></div>
<div class="t" style="left:1488.67px;top:483px;line-height:12px;font-size:10.6px;color:#8a93a3;">7</div>
<div class="t" style="left:1510.00px;top:483px;line-height:12px;font-size:11px;letter-spacing:-0.366px;font-family:'Liberation Mono',monospace"><span style="color:#2d3748">}</span></div>
<div class="t" style="left:1488.78px;top:509px;line-height:12px;font-size:10.6px;color:#8a93a3;">8</div>
<div class="t" style="left:1510.00px;top:509px;line-height:12px;font-size:11px;letter-spacing:-0.366px;font-family:'Liberation Mono',monospace"><span style="color:#2d3748">module.exports = (context, basicIO) =&gt; {</span></div>
<div class="t" style="left:1488.78px;top:535px;line-height:12px;font-size:10.6px;color:#8a93a3;">9</div>
<div class="t" style="left:1534.94px;top:535px;line-height:12px;font-size:11px;letter-spacing:-0.366px;font-family:'Liberation Mono',monospace"><span style="color:#2d3748">let name = basicIO.getArgument(</span><span style="color:#e03131">"name"</span><span style="color:#2d3748">); </span><span style="color:#2fb344">// returns</span></div>
<div class="t" style="left:1488.21px;top:561px;line-height:12px;font-size:10.6px;color:#8a93a3;transform:scaleX(1.0689);transform-origin:0 0;">10</div>
<div class="t" style="left:1534.94px;top:561px;line-height:12px;font-size:11px;letter-spacing:-0.366px;font-family:'Liberation Mono',monospace"><span style="color:#2d3748">context.log(</span><span style="color:#e03131">"Received Name : "</span><span style="color:#2d3748"> + name);</span></div>
<div class="t" style="left:1488.13px;top:586px;line-height:12px;font-size:10.6px;color:#8a93a3;transform:scaleX(1.1665);transform-origin:0 0;">11</div>
<div class="t" style="left:1490.03px;top:883px;line-height:12px;font-size:10.6px;color:#4a5568;transform:scaleX(1.0304);transform-origin:0 0;">Line: 10</div>
<div class="t" style="left:1563.14px;top:883px;line-height:12px;font-size:10.6px;color:#4a5568;transform:scaleX(1.0552);transform-origin:0 0;">Column: 7</div>
<div class="t" style="left:1647.98px;top:883px;line-height:12px;font-size:10.6px;color:#4a5568;letter-spacing:0.110px;">Selection: 16 characters</div>
</body>
</html>
